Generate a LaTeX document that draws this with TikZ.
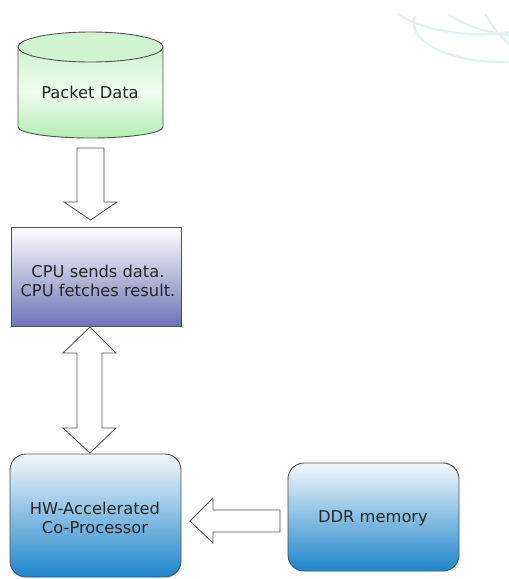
\documentclass[tikz,border=0pt]{standalone}
\usepackage{fontspec}
\setmainfont{DejaVu Sans}
\usetikzlibrary{calc}
\definecolor{edge}{HTML}{505050}
\definecolor{greenlo}{HTML}{B4EEB4}
\definecolor{greenmid}{HTML}{EEFCEE}
\definecolor{greenhi}{HTML}{CFF4CF}
\definecolor{cpulo}{HTML}{6C74B4}
\definecolor{hwlo}{HTML}{1C86CC}
\definecolor{hwhi}{HTML}{F4F7FB}
\definecolor{swirl}{HTML}{E6F0F5}
\tikzset{
  label/.style={font=\fontsize{16.3}{19.5}\selectfont, text=black!85, align=center},
  blockarrow/.style={draw=edge, line width=0.8pt, fill=white, line join=miter},
  boxline/.style={draw=edge, line width=0.9pt},
}
\begin{document}
\begin{tikzpicture}[x=1pt,y=-1pt]
\useasboundingbox (0,0) rectangle (509,579);
\fill[white] (0,0) rectangle (509,579);

% faint background swirls
\begin{scope}[swirl, line width=2.2pt]
  \draw (398,14) .. controls (425,32) and (475,38) .. (509,32);
  \draw (415,16) .. controls (405,45) and (460,64) .. (509,62);
  \draw (448,14) .. controls (468,28) and (490,32) .. (509,36);
  \draw (485,14) .. controls (493,28) and (502,38) .. (509,44);
\end{scope}

% cylinder: Packet Data
\shade[top color=greenhi, bottom color=greenlo, middle color=greenmid]
  (18,47) -- (18,127) arc[start angle=180, end angle=0, x radius=72.5, y radius=11]
  -- (163,47) -- cycle;
\fill[greenhi] (90.5,47) ellipse[x radius=72.5, y radius=15];
\draw[boxline] (18,47) -- (18,127) arc[start angle=180, end angle=0, x radius=72.5, y radius=11] -- (163,47);
\draw[boxline] (90.5,47) ellipse[x radius=72.5, y radius=15];
\node[label] (pd) at (90,92) {Packet Data};

% CPU box
\shade[top color=white, bottom color=cpulo] (11,227) rectangle (181,326);
\draw[boxline] (11,227) rectangle (181,326);
\node[label] (cpu) at (98,281) {CPU sends data.\\CPU fetches result.};

% HW co-processor box
\shade[top color=hwhi, bottom color=hwlo, rounded corners=16pt] (10,454) rectangle (181,577);
\draw[boxline, rounded corners=16pt] (10,454) rectangle (181,577);
\node[label] (hw) at (95,518) {HW-Accelerated\\Co-Processor};

% DDR memory box
\shade[top color=hwhi, bottom color=hwlo, rounded corners=16pt] (288,463) rectangle (459,571);
\draw[boxline, rounded corners=16pt] (288,463) rectangle (459,571);
\node[label] (ddr) at (373,518) {DDR memory};

% block arrows
\draw[blockarrow] (77,148) -- (104,148) -- (104,202) -- (117,202) -- (90.5,220)
  -- (64,202) -- (77,202) -- cycle;
\draw[blockarrow] (90,327) -- (116,353) -- (102,353) -- (102,428) -- (116,428)
  -- (90,453) -- (63,428) -- (77,428) -- (77,353) -- (63,353) -- cycle;
\draw[blockarrow] (190,521) -- (213,498) -- (213,510) -- (280,510) -- (280,532)
  -- (213,532) -- (213,543) -- cycle;
\end{tikzpicture}
\end{document}
